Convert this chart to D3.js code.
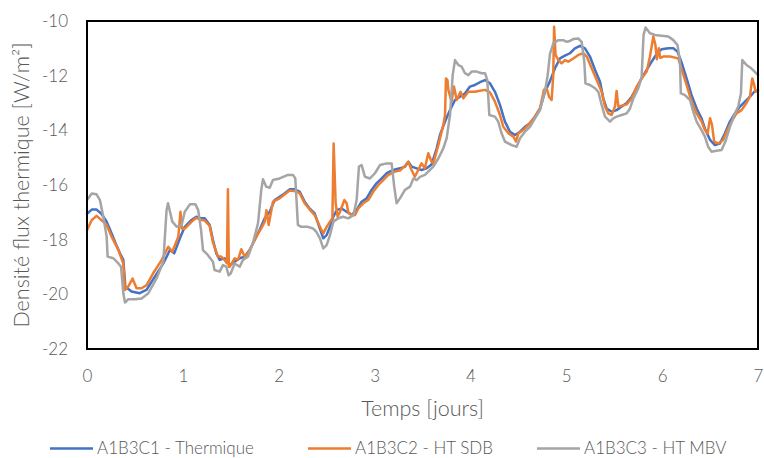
<!DOCTYPE html>
<html><head><meta charset="utf-8">
<script src="https://cdn.jsdelivr.net/npm/d3@7"></script>
<style>body{margin:0;background:#fff;} svg{display:block}</style>
</head><body><svg id="c" width="764" height="458"></svg>
<script>
const xTicks = [0,1,2,3,4,5,6,7];
const yTicks = [-22,-20,-18,-16,-14,-12,-10];
const seriesNames = ["A1B3C1 - Thermique","A1B3C2 - HT SDB","A1B3C3 - HT MBV"];
const seriesColors = ["#4472C4","#ED7D31","#A5A5A5"];
const xTitle = "Temps [jours]";
const yTitle = "Densité flux thermique [W/m²]";

const thermique = [[0,-17.05],[0.05,-16.9],[0.1,-16.9],[0.15,-17.05],[0.205,-17.34],[0.257,-17.77],[0.3,-18.15],[0.344,-18.5],[0.379,-18.74],[0.40,-19.72],[0.465,-19.9],[0.55,-19.96],[0.62,-19.84],[0.708,-19.35],[0.796,-18.87],[0.865,-18.38],[0.91,-18.5],[0.969,-17.95],[1.02,-17.53],[1.09,-17.28],[1.14,-17.16],[1.196,-17.22],[1.228,-17.22],[1.28,-17.46],[1.314,-18.01],[1.349,-18.5],[1.384,-18.74],[1.435,-18.68],[1.488,-18.93],[1.54,-18.81],[1.593,-18.68],[1.645,-18.62],[1.697,-18.38],[1.749,-18.01],[1.8,-17.65],[1.854,-17.22],[1.906,-16.98],[1.958,-16.55],[2.01,-16.43],[2.06,-16.31],[2.114,-16.16],[2.166,-16.16],[2.218,-16.24],[2.27,-16.61],[2.322,-16.86],[2.375,-17.04],[2.43,-17.6],[2.465,-17.95],[2.5,-17.83],[2.535,-17.53],[2.57,-17.16],[2.605,-16.92],[2.656,-16.86],[2.709,-16.98],[2.76,-17.1],[2.812,-16.92],[2.865,-16.61],[2.917,-16.49],[2.969,-16.18],[3.02,-15.94],[3.074,-15.76],[3.126,-15.57],[3.196,-15.45],[3.265,-15.39],[3.317,-15.33],[3.352,-15.15],[3.387,-15.33],[3.439,-15.39],[3.49,-15.45],[3.543,-15.39],[3.595,-15.25],[3.648,-14.66],[3.682,-14.17],[3.735,-13.68],[3.787,-13.26],[3.839,-12.89],[3.891,-12.77],[3.943,-12.65],[3.995,-12.4],[4.047,-12.34],[4.1,-12.24],[4.152,-12.16],[4.204,-12.28],[4.256,-12.59],[4.308,-13.07],[4.36,-13.68],[4.413,-14.05],[4.465,-14.17],[4.517,-14.05],[4.569,-13.87],[4.621,-13.74],[4.673,-13.5],[4.726,-13.2],[4.778,-12.59],[4.83,-12.2],[4.882,-11.73],[4.934,-11.37],[4.986,-11.27],[5.038,-11.18],[5.09,-11.0],[5.143,-10.91],[5.195,-11.0],[5.247,-11.3],[5.3,-11.79],[5.352,-12.22],[5.386,-12.83],[5.421,-13.2],[5.473,-13.32],[5.525,-13.26],[5.578,-13.13],[5.63,-13.0],[5.682,-12.77],[5.734,-12.46],[5.786,-12.1],[5.839,-11.79],[5.89,-11.49],[5.943,-11.2],[5.995,-11.03],[6.065,-11.0],[6.117,-11.0],[6.16,-11.12],[6.2,-11.49],[6.255,-12.1],[6.307,-12.71],[6.36,-13.2],[6.411,-13.56],[6.446,-13.93],[6.5,-14.35],[6.55,-14.54],[6.602,-14.48],[6.655,-14.11],[6.707,-13.68],[6.76,-13.38],[6.812,-13.13],[6.864,-12.95],[6.916,-12.77],[6.968,-12.56],[7.0,-12.56]];

const htSdb = [[0,-17.65],[0.05,-17.28],[0.1,-17.13],[0.15,-17.28],[0.205,-17.46],[0.257,-17.89],[0.327,-18.38],[0.379,-18.87],[0.396,-19.84],[0.43,-19.72],[0.475,-19.42],[0.517,-19.78],[0.57,-19.78],[0.622,-19.66],[0.69,-19.23],[0.778,-18.75],[0.848,-18.26],[0.89,-18.44],[0.953,-17.89],[0.975,-16.98],[0.99,-17.6],[1.02,-17.6],[1.09,-17.35],[1.14,-17.2],[1.196,-17.28],[1.228,-17.3],[1.28,-17.5],[1.314,-18.1],[1.366,-18.62],[1.40,-18.62],[1.435,-18.74],[1.46,-18.86],[1.47,-16.16],[1.48,-18.99],[1.49,-18.99],[1.54,-18.68],[1.575,-18.74],[1.61,-18.35],[1.645,-18.62],[1.68,-18.48],[1.715,-18.26],[1.766,-17.89],[1.818,-17.59],[1.854,-17.34],[1.872,-16.92],[1.895,-17.46],[1.94,-16.61],[2.01,-16.49],[2.06,-16.35],[2.114,-16.2],[2.166,-16.22],[2.218,-16.3],[2.27,-16.67],[2.32,-16.88],[2.375,-17.1],[2.43,-17.53],[2.465,-17.77],[2.5,-17.53],[2.535,-17.34],[2.56,-17.22],[2.573,-14.48],[2.594,-16.67],[2.615,-17.16],[2.64,-16.98],[2.685,-16.55],[2.709,-16.67],[2.725,-16.98],[2.76,-17.1],[2.795,-17.1],[2.83,-16.86],[2.882,-16.67],[2.934,-16.55],[2.987,-16.24],[3.04,-16.0],[3.09,-15.82],[3.144,-15.63],[3.213,-15.51],[3.265,-15.47],[3.31,-15.33],[3.352,-15.15],[3.386,-15.45],[3.42,-15.7],[3.456,-15.45],[3.49,-15.21],[3.525,-15.39],[3.56,-14.84],[3.595,-15.15],[3.613,-15.21],[3.665,-14.54],[3.717,-13.8],[3.735,-13.44],[3.745,-12.1],[3.76,-12.16],[3.77,-12.53],[3.804,-12.95],[3.828,-12.4],[3.857,-12.89],[3.897,-12.59],[3.926,-12.83],[3.978,-12.59],[4.047,-12.59],[4.1,-12.55],[4.152,-12.52],[4.204,-12.61],[4.256,-12.95],[4.308,-13.44],[4.343,-13.87],[4.396,-14.11],[4.448,-14.23],[4.475,-14.41],[4.5,-14.11],[4.552,-13.99],[4.604,-13.8],[4.673,-13.5],[4.726,-13.2],[4.767,-12.52],[4.795,-12.46],[4.82,-12.77],[4.847,-12.89],[4.864,-11.98],[4.873,-10.21],[4.888,-11.24],[4.917,-11.43],[4.951,-11.55],[4.986,-11.43],[5.02,-11.49],[5.073,-11.37],[5.125,-11.24],[5.178,-11.18],[5.213,-11.3],[5.265,-11.73],[5.317,-12.16],[5.369,-12.59],[5.404,-13.13],[5.438,-13.38],[5.473,-13.44],[5.508,-13.13],[5.525,-12.56],[5.543,-13.13],[5.578,-13.1],[5.63,-13.05],[5.682,-12.83],[5.734,-12.4],[5.786,-12.1],[5.839,-11.85],[5.873,-11.3],[5.908,-10.57],[5.93,-10.88],[5.945,-11.4],[5.965,-11.0],[5.98,-11.35],[6.012,-11.3],[6.082,-11.3],[6.134,-11.34],[6.168,-11.37],[6.2,-11.73],[6.255,-12.34],[6.307,-12.95],[6.36,-13.38],[6.411,-13.68],[6.446,-13.99],[6.474,-14.11],[6.5,-13.56],[6.52,-13.8],[6.543,-14.41],[6.585,-14.48],[6.637,-14.35],[6.672,-14.05],[6.724,-13.68],[6.776,-13.38],[6.828,-13.26],[6.88,-13.0],[6.916,-12.77],[6.94,-12.1],[6.96,-12.34],[6.975,-12.59],[7.0,-12.52]];

const htMbv = [[0,-16.55],[0.05,-16.31],[0.1,-16.34],[0.135,-16.55],[0.17,-17.16],[0.205,-17.89],[0.215,-18.62],[0.275,-18.68],[0.327,-18.87],[0.355,-18.99],[0.379,-19.96],[0.396,-20.3],[0.43,-20.18],[0.5,-20.18],[0.57,-20.15],[0.64,-19.96],[0.725,-19.42],[0.796,-18.81],[0.83,-16.92],[0.845,-16.67],[0.89,-17.34],[0.935,-17.53],[0.987,-17.46],[1.02,-16.98],[1.075,-16.7],[1.13,-16.7],[1.16,-16.92],[1.19,-17.65],[1.21,-18.38],[1.26,-18.56],[1.314,-18.81],[1.33,-19.11],[1.384,-19.17],[1.418,-18.93],[1.453,-18.99],[1.477,-19.3],[1.5,-19.23],[1.54,-18.87],[1.593,-18.99],[1.627,-18.74],[1.68,-18.62],[1.73,-18.13],[1.784,-17.4],[1.818,-16.18],[1.836,-15.79],[1.87,-16.06],[1.906,-16.1],[1.94,-15.82],[2.01,-15.76],[2.096,-15.63],[2.149,-15.63],[2.173,-15.76],[2.2,-17.46],[2.235,-17.53],[2.305,-17.53],[2.357,-17.59],[2.392,-17.71],[2.43,-17.95],[2.465,-18.32],[2.5,-18.2],[2.535,-17.83],[2.57,-17.34],[2.62,-17.22],[2.67,-17.16],[2.725,-17.22],[2.78,-17.1],[2.813,-16.55],[2.837,-15.33],[2.865,-15.27],[2.9,-15.7],[2.952,-15.76],[3.004,-15.57],[3.056,-15.27],[3.126,-15.21],[3.178,-15.21],[3.205,-16.06],[3.23,-16.67],[3.265,-16.49],[3.317,-16.18],[3.37,-16.06],[3.405,-15.76],[3.439,-15.82],[3.474,-15.7],[3.525,-15.63],[3.578,-15.45],[3.613,-15.33],[3.665,-15.03],[3.717,-14.66],[3.752,-14.29],[3.787,-13.44],[3.815,-11.98],[3.839,-11.43],[3.874,-11.61],[3.908,-11.67],[3.943,-11.91],[3.978,-11.98],[4.013,-11.85],[4.065,-11.85],[4.117,-11.91],[4.152,-11.91],[4.176,-12.16],[4.197,-13.44],[4.256,-13.5],[4.29,-13.68],[4.325,-14.11],[4.36,-14.41],[4.43,-14.54],[4.482,-14.6],[4.517,-14.29],[4.569,-14.05],[4.621,-13.87],[4.673,-13.56],[4.726,-13.26],[4.778,-12.55],[4.806,-11.98],[4.83,-11.2],[4.865,-10.82],[4.917,-10.7],[4.969,-10.7],[5.004,-10.76],[5.038,-10.73],[5.073,-10.66],[5.125,-10.64],[5.16,-10.76],[5.188,-11.49],[5.2,-12.28],[5.247,-12.34],[5.3,-12.46],[5.334,-12.59],[5.369,-13.07],[5.404,-13.5],[5.456,-13.68],[5.49,-13.56],[5.525,-13.5],[5.578,-13.44],[5.63,-13.38],[5.665,-13.2],[5.7,-12.83],[5.752,-12.46],[5.786,-12.04],[5.806,-10.51],[5.827,-10.24],[5.873,-10.45],[5.925,-10.51],[5.995,-10.54],[6.065,-10.57],[6.117,-10.7],[6.16,-10.88],[6.186,-11.49],[6.195,-12.65],[6.238,-12.71],[6.29,-12.89],[6.325,-13.32],[6.36,-13.68],[6.411,-13.99],[6.446,-14.23],[6.48,-14.6],[6.515,-14.78],[6.567,-14.75],[6.62,-14.72],[6.66,-14.41],[6.707,-13.87],[6.76,-13.38],[6.794,-13.13],[6.822,-12.65],[6.836,-11.43],[6.88,-11.61],[6.93,-11.73],[6.98,-11.91],[7.0,-11.98]];

const allSeries = [thermique, htSdb, htMbv];

const svg = d3.select("#c");
const FONT = "Lato, 'Open Sans', sans-serif";
const TXT = "#595959";
const x = d3.scaleLinear().domain([0,7]).range([87,758]);
const y = d3.scaleLinear().domain([-22,-10]).range([349,21]);
const fmt = d => String(d);

// axes
const gy = svg.append("g").attr("transform","translate(87,0)")
  .call(d3.axisLeft(y).tickValues(yTicks).tickSize(0).tickPadding(19).tickFormat(fmt));
gy.select(".domain").remove();
gy.selectAll("text").attr("font-family",FONT).attr("font-size",17).attr("fill",TXT).attr("font-weight",300);

const gx = svg.append("g").attr("transform","translate(0,349)")
  .call(d3.axisBottom(x).tickValues(xTicks).tickSize(0).tickPadding(21).tickFormat(fmt));
gx.select(".domain").remove();
gx.selectAll("text").attr("font-family",FONT).attr("font-size",17).attr("fill",TXT).attr("font-weight",300);

// lines
const line = d3.line().x(d=>x(d[0])).y(d=>y(d[1]));
allSeries.forEach((s,i)=>{
  svg.append("path").datum(s).attr("d",line).attr("fill","none")
    .attr("stroke",seriesColors[i]).attr("stroke-width",2.5)
    .attr("stroke-linejoin","round").attr("stroke-linecap","round");
});

// plot border
svg.append("rect").attr("x",x(0)).attr("y",y(-10)).attr("width",x(7)-x(0)).attr("height",y(-22)-y(-10))
  .attr("fill","none").attr("stroke","#000").attr("stroke-width",2);

// titles
svg.append("text").attr("x",(x(0)+x(7))/2).attr("y",416).attr("text-anchor","middle")
  .attr("font-family",FONT).attr("font-size",21.5).attr("fill",TXT).attr("font-weight",300).text(xTitle);
svg.append("text").attr("transform","translate(29,185) rotate(-90)").attr("text-anchor","middle")
  .attr("font-family",FONT).attr("font-size",21.5).attr("fill",TXT).attr("font-weight",300).text(yTitle);

// legend
const legX = [50,308,537];
const leg = svg.append("g");
seriesNames.forEach((n,i)=>{
  leg.append("line").attr("x1",legX[i]).attr("x2",legX[i]+43).attr("y1",448.5).attr("y2",448.5)
    .attr("stroke",seriesColors[i]).attr("stroke-width",2.5);
  leg.append("text").attr("x",legX[i]+47).attr("y",453.5)
    .attr("font-family",FONT).attr("font-size",17).attr("fill",TXT).attr("font-weight",300).text(n);
});
</script></body></html>
